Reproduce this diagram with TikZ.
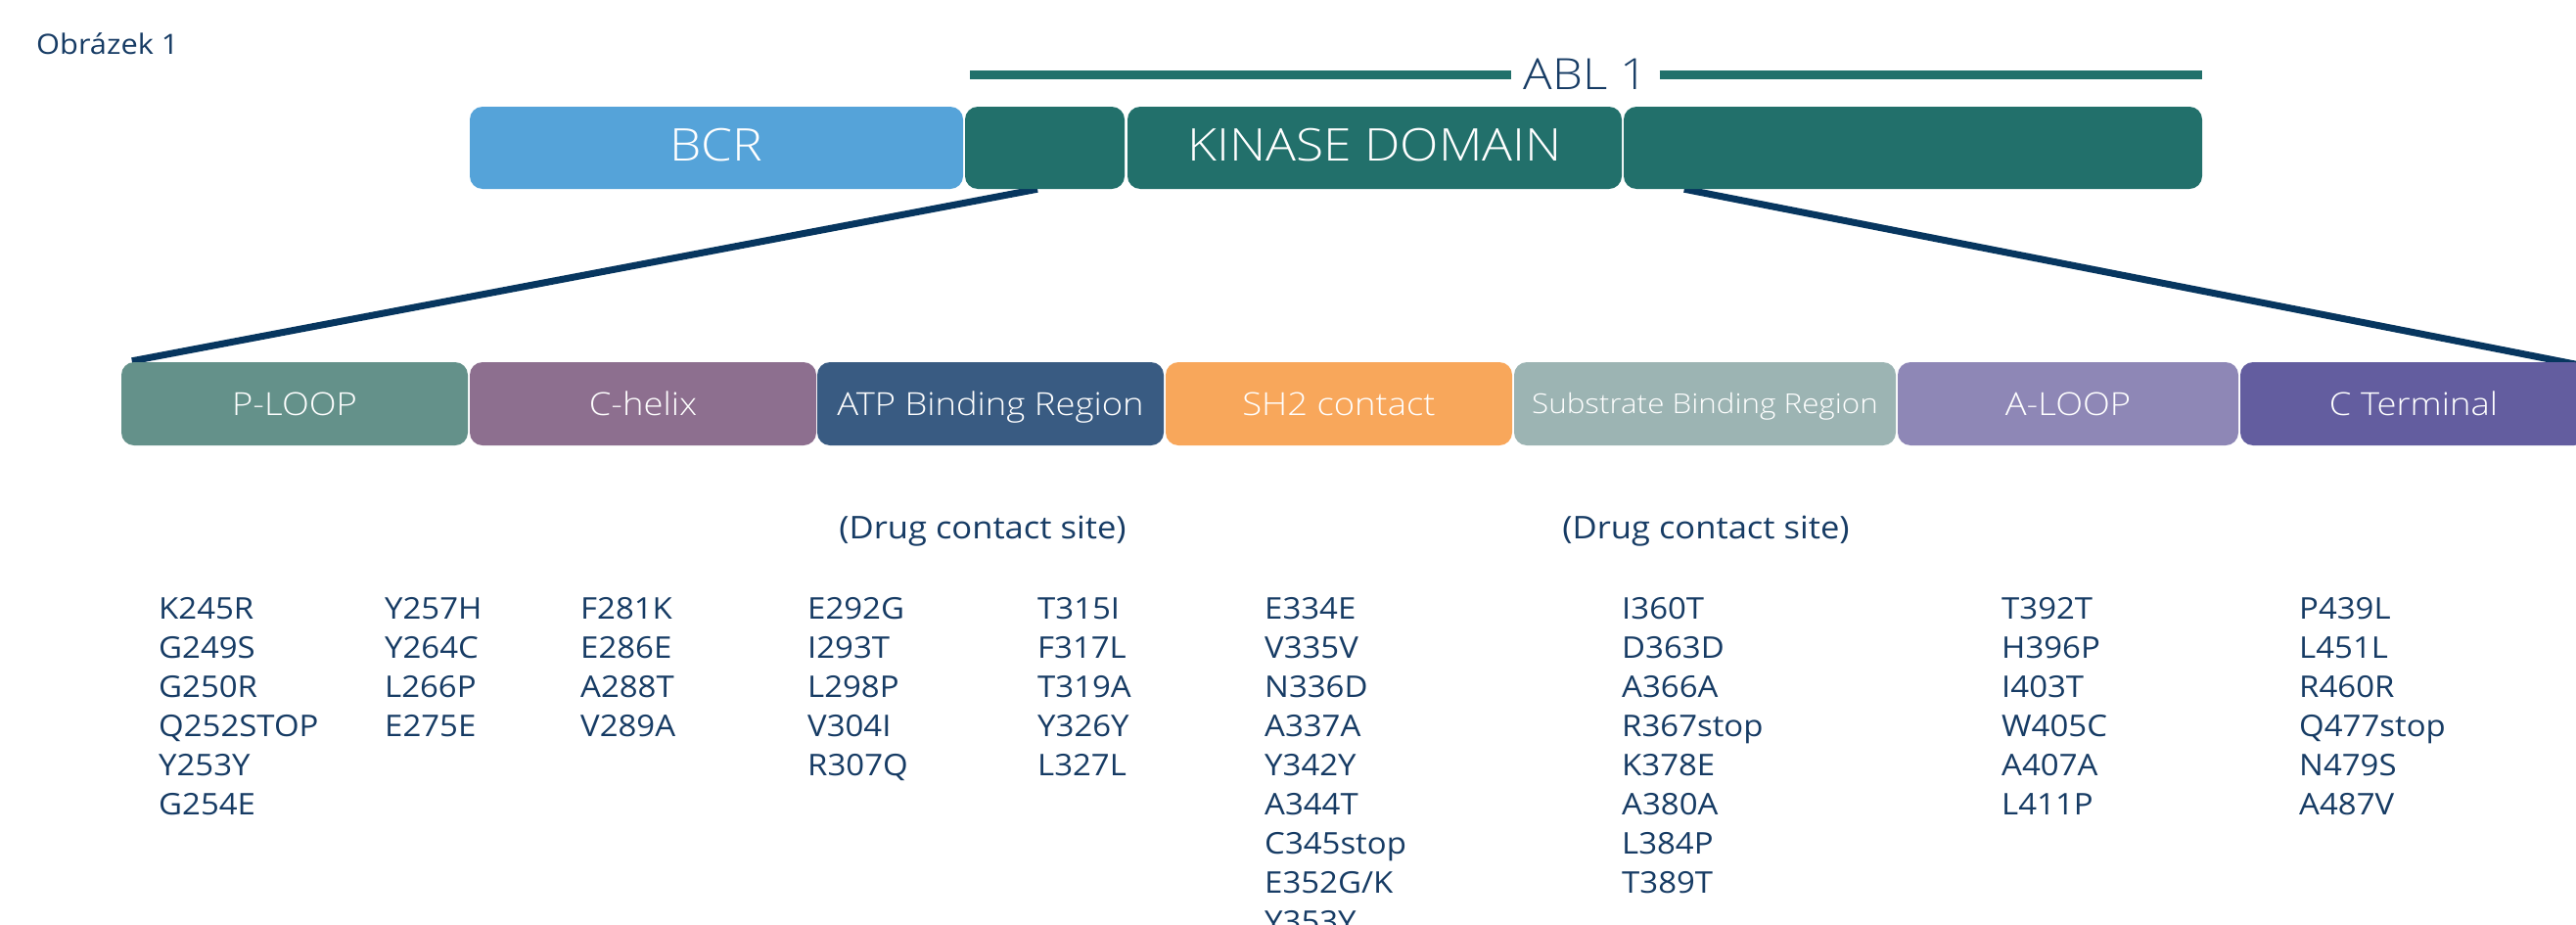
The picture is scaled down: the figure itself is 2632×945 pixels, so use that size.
\documentclass[tikz,border=0pt]{standalone}
\usepackage{fontspec}
\setmainfont{Open Sans}[UprightFont={* Light}, FakeStretch=1.12]
\newfontfamily\smallfont{Open Sans}[FakeStretch=1.08]
\usetikzlibrary{calc}
\definecolor{bcrblue}{HTML}{55A3D9}
\definecolor{ablteal}{HTML}{22706B}
\definecolor{ploopc}{HTML}{64918A}
\definecolor{chelixc}{HTML}{8D6F8F}
\definecolor{atpc}{HTML}{395B82}
\definecolor{shc}{HTML}{F8A75B}
\definecolor{substc}{HTML}{9CB4B3}
\definecolor{aloopc}{HTML}{8E87B6}
\definecolor{ctermc}{HTML}{635D9F}
\definecolor{connavy}{HTML}{07365F}
\definecolor{txtnavy}{HTML}{163B64}
\pgfdeclarelayer{bg}
\pgfsetlayers{bg,main}
\begin{document}
\begin{tikzpicture}[x=1pt,y=-1pt,
  seg/.style={rounded corners=13pt, inner sep=0pt, text=white, text depth=0pt},
  topseg/.style={seg, minimum height=84pt, text height=27pt,
    font=\fontsize{46}{50}\selectfont},
  subseg/.style={seg, minimum height=85pt, text height=23.2pt,
    font=\fontsize{32.5}{36}\selectfont},
  mut/.style={text=txtnavy, inner sep=0pt, anchor=base west,
    font=\smallfont\fontsize{30.5}{36}\selectfont},
  note/.style={text=txtnavy, inner sep=0pt, anchor=base,
    font=\smallfont\fontsize{32}{36}\selectfont},
  conn/.style={draw=connavy, line width=7pt},
  ablline/.style={draw=ablteal, line width=9pt}]
\useasboundingbox (0,0) rectangle (2632,945);

% title
\node[text=txtnavy, inner sep=0pt, anchor=base west,
  font=\smallfont\fontsize{28.5}{32}\selectfont] (title) at (37,55) {Obrázek 1};

% ABL 1 bracket line
\coordinate (ablL) at (991,76.5);
\coordinate (ablR) at (2250,76.5);
\node[text=txtnavy, inner ysep=0pt, inner xsep=12pt, anchor=base,
  font=\fontsize{44}{48}\selectfont] (abl) at (1620,91) {ABL 1};
\draw[ablline] (ablL) -- (abl.west |- ablL);
\draw[ablline] (abl.east |- ablR) -- (ablR);

% top row
\node[topseg, fill=bcrblue, minimum width=504pt] (bcr) at (732,151) {BCR};
\node[topseg, fill=ablteal, minimum width=163pt] (abla) at (1067.5,151) {};
\node[topseg, fill=ablteal, minimum width=505pt] (kin) at (1404.5,151) {KINASE DOMAIN};
\node[topseg, fill=ablteal, minimum width=591pt] (ablc) at (1954.5,151) {};

% second row
\node[subseg, fill=ploopc, minimum width=354pt] (ploop) at (301,412.5) {P-LOOP};
\node[subseg, fill=chelixc, minimum width=354pt] (chelix) at (657,412.5) {C-helix};
\node[subseg, fill=atpc, minimum width=354pt] (atp) at (1012,412.5) {ATP Binding Region};
\node[subseg, fill=shc, minimum width=354pt] (sh2) at (1368,412.5) {SH2 contact};
\node[subseg, fill=substc, minimum width=390pt, text height=20pt,
  font=\fontsize{28}{32}\selectfont] (subst) at (1742,412.5) {Substrate Binding Region};
\node[subseg, fill=aloopc, minimum width=348pt] (aloop) at (2113,412.5) {A-LOOP};
\node[subseg, fill=ctermc, minimum width=354pt] (cterm) at (2466,412.5) {C Terminal};

% connectors (behind)
\begin{pgfonlayer}{bg}
\draw[conn] ($(abla.south)+(-7.5,0)$) -- ($(ploop.north west)+(11,-1)$);
\draw[conn] ($(ablc.south west)+(62,0)$) -- ($(cterm.north east)+(17,8)$);
\end{pgfonlayer}

% drug contact notes
\node[note] (drug1) at (1004,550) {(Drug contact site)};
\node[note] (drug2) at (1743,550) {(Drug contact site)};

% mutations
\foreach \c/\x/\lst in {
  1/162/{K245R,G249S,G250R,Q252STOP,Y253Y,G254E},
  2/393/{Y257H,Y264C,L266P,E275E},
  3/593/{F281K,E286E,A288T,V289A},
  4/825/{E292G,I293T,L298P,V304I,R307Q},
  5/1060/{T315I,F317L,T319A,Y326Y,L327L},
  6/1292/{E334E,V335V,N336D,A337A,Y342Y,A344T,C345stop,E352G/K,Y353Y},
  7/1657/{I360T,D363D,A366A,R367stop,K378E,A380A,L384P,T389T},
  8/2045/{T392T,H396P,I403T,W405C,A407A,L411P},
  9/2349/{P439L,L451L,R460R,Q477stop,N479S,A487V}}{
  \foreach \t [count=\i] in \lst {
    \node[mut] (m\c-\i) at (\x,{632+40*(\i-1)}) {\t};
  }
}
\end{tikzpicture}
\end{document}
